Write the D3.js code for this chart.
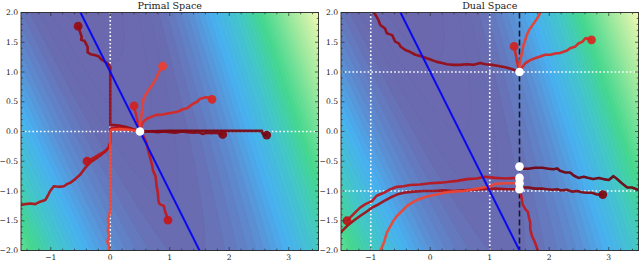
<!DOCTYPE html>
<html><head><meta charset="utf-8">
<script src="https://cdn.jsdelivr.net/npm/d3@7"></script>
<style>
html,body{margin:0;padding:0;background:#fff;}
svg{display:block;font-family:"DejaVu Serif",serif;}
</style></head>
<body><svg id="chart" width="640" height="260"></svg>
<script>
// ---------------- data ----------------
const panelTitles = ["Primal Space", "Dual Space"];
const xTickValues = [-1, 0, 1, 2, 3];
const yTickValues = [-2, -1.5, -1, -0.5, 0, 0.5, 1, 1.5, 2];
const xDomain = [-1.5, 3.5];
const yDomain = [-2, 2];

// background field coefficients f = a*(x - c + k*y)^2 + g*y
const fieldA = 0.223, fieldC = 0.51, fieldK = 0.39, fieldG = -0.06;

// constraint line 2x + y = 1 (two endpoints)
const constraintLine = [[-0.55, 2.1], [1.55, -2.1]];

// primal trajectories
const pTraj1 = [[-0.54,1.77],[-0.50,1.65],[-0.48,1.59],[-0.49,1.54],[-0.43,1.52],[-0.40,1.46],[-0.38,1.42],[-0.38,1.33],[-0.33,1.30],[-0.25,1.28],[-0.19,1.26],[-0.16,1.22],[-0.10,1.18],[-0.05,1.15],[-0.01,1.10],[0.0,1.09],[0.0,0.60],[0.0,0.11],[0.06,0.11],[0.15,0.10],[0.25,0.08],[0.35,0.05],[0.43,0.02],[0.5,0.0]];
const pTraj2 = [[2.63,-0.06],[2.58,-0.05],[2.55,-0.02],[2.55,0.01],[2.2,0.01],[1.6,0.01],[1.0,0.01],[0.5,0.0]];
const pTraj3 = [[1.89,-0.05],[1.84,-0.04],[1.78,-0.02],[1.70,-0.03],[1.62,-0.02],[1.55,-0.04],[1.48,-0.01],[1.40,-0.02],[1.30,-0.01],[1.20,0.0],[1.10,-0.02],[1.0,-0.01],[0.9,0.0],[0.8,-0.01],[0.7,0.0],[0.5,0.0]];
const pTraj4 = [[0.88,1.10],[0.84,1.04],[0.81,0.98],[0.77,0.89],[0.73,0.82],[0.70,0.77],[0.66,0.72],[0.62,0.66],[0.58,0.59],[0.56,0.55],[0.55,0.48],[0.54,0.40],[0.53,0.31],[0.52,0.24],[0.50,0.14],[0.50,0.06],[0.5,0.0]];
const pTraj5 = [[0.40,0.43],[0.41,0.37],[0.43,0.30],[0.44,0.24],[0.46,0.16],[0.48,0.09],[0.5,0.0]];
const pTraj6 = [[1.71,0.54],[1.65,0.57],[1.60,0.575],[1.55,0.56],[1.51,0.55],[1.46,0.50],[1.40,0.47],[1.34,0.43],[1.29,0.39],[1.21,0.37],[1.17,0.35],[1.12,0.33],[1.06,0.32],[1.01,0.31],[0.95,0.30],[0.90,0.29],[0.84,0.28],[0.78,0.28],[0.70,0.25],[0.62,0.22],[0.56,0.17],[0.53,0.12],[0.5,0.0]];
const pTraj7 = [[-0.39,-0.50],[-0.33,-0.47],[-0.26,-0.43],[-0.19,-0.39],[-0.12,-0.35],[-0.06,-0.31],[-0.02,-0.27],[0.0,-0.18],[0.0,0.0],[0.01,0.05],[0.1,0.06],[0.25,0.05],[0.4,0.02],[0.5,0.0]];
const pTraj8 = [[-1.62,-1.27],[-1.51,-1.24],[-1.43,-1.22],[-1.34,-1.21],[-1.26,-1.22],[-1.18,-1.18],[-1.09,-1.15],[-1.05,-1.08],[-1.01,-1.0],[-0.95,-0.92],[-0.87,-0.93],[-0.78,-0.92],[-0.72,-0.88],[-0.67,-0.86],[-0.59,-0.80],[-0.50,-0.72],[-0.42,-0.61],[-0.34,-0.52],[-0.28,-0.48],[-0.22,-0.44],[-0.14,-0.38],[-0.08,-0.33],[-0.03,-0.27],[0.0,-0.19],[0.01,0.04],[0.11,0.07],[0.22,0.06],[0.34,0.04],[0.49,0.01]];
const pTraj9 = [[-0.03,-2.15],[-0.03,-2.0],[-0.02,-1.93],[-0.05,-1.85],[-0.02,-1.76],[-0.04,-1.66],[-0.02,-1.57],[-0.04,-1.48],[-0.01,-1.38],[0.0,-1.3],[0.0,-0.6],[0.0,0.0],[0.02,0.03],[0.15,0.04],[0.32,0.03],[0.5,0.0]];
const pTraj10 = [[0.97,-1.49],[0.95,-1.42],[0.92,-1.34],[0.90,-1.25],[0.83,-1.22],[0.81,-1.17],[0.80,-1.03],[0.78,-0.92],[0.77,-0.83],[0.76,-0.75],[0.72,-0.66],[0.70,-0.55],[0.67,-0.44],[0.64,-0.33],[0.61,-0.19],[0.56,-0.08],[0.5,0.0]];
const primalTrajectories = [pTraj2, pTraj3, pTraj1, pTraj8, pTraj7, pTraj10, pTraj5, pTraj6, pTraj4, pTraj9];
const primalShades = [0.97, 0.94, 0.9, 0.84, 0.8, 0.78, 0.72, 0.7, 0.62, 0.6];
const primalSolutions = [[0.5, 0.0]];
const primalGuidesX = [0];
const primalGuidesY = [0];

// dual trajectories
const dTraj1 = [[-1.0,2.1],[-0.96,2.01],[-0.92,1.96],[-0.87,1.87],[-0.84,1.79],[-0.76,1.73],[-0.73,1.65],[-0.64,1.62],[-0.59,1.51],[-0.53,1.48],[-0.50,1.43],[-0.42,1.37],[-0.34,1.34],[-0.25,1.29],[-0.14,1.26],[-0.06,1.23],[0.03,1.20],[0.11,1.17],[0.20,1.15],[0.28,1.13],[0.39,1.12],[0.50,1.12],[0.62,1.13],[0.73,1.12],[0.84,1.15],[0.93,1.13],[1.04,1.12],[1.15,1.10],[1.26,1.08],[1.37,1.05],[1.5,1.0]];
const dTraj2 = [[1.9,2.12],[1.86,2.02],[1.82,1.94],[1.77,1.86],[1.72,1.79],[1.67,1.72],[1.63,1.64],[1.60,1.55],[1.57,1.46],[1.55,1.37],[1.53,1.27],[1.50,1.15],[1.5,1.0]];
const dTraj3 = [[1.41,1.43],[1.43,1.33],[1.45,1.22],[1.47,1.12],[1.5,1.0]];
const dTraj4 = [[2.71,1.54],[2.61,1.57],[2.56,1.51],[2.49,1.48],[2.44,1.43],[2.35,1.40],[2.30,1.36],[2.24,1.34],[2.18,1.32],[2.10,1.31],[2.02,1.29],[1.93,1.29],[1.85,1.26],[1.76,1.23],[1.68,1.20],[1.60,1.15],[1.53,1.06],[1.5,1.0]];
const dTraj5 = [[3.6,-1.02],[3.53,-1.0],[3.47,-0.97],[3.39,-0.94],[3.31,-0.94],[3.22,-0.87],[3.14,-0.80],[3.08,-0.75],[3.00,-0.815],[2.91,-0.80],[2.83,-0.78],[2.74,-0.80],[2.66,-0.78],[2.58,-0.76],[2.49,-0.78],[2.41,-0.74],[2.35,-0.69],[2.27,-0.69],[2.18,-0.66],[2.13,-0.62],[2.07,-0.635],[1.99,-0.625],[1.88,-0.61],[1.76,-0.61],[1.65,-0.625],[1.54,-0.625],[1.5,-0.59]];
const dTraj6 = [[2.90,-1.06],[2.80,-1.06],[2.72,-1.03],[2.63,-1.03],[2.55,-1.02],[2.47,-1.0],[2.38,-1.01],[2.30,-0.98],[2.21,-0.99],[2.13,-0.97],[2.05,-0.98],[1.96,-0.97],[1.88,-0.96],[1.76,-0.96],[1.65,-0.94],[1.54,-0.94],[1.5,-0.97]];
const dTraj7 = [[-1.40,-1.50],[-1.34,-1.44],[-1.29,-1.39],[-1.18,-1.28],[-1.09,-1.22],[-0.98,-1.17],[-0.90,-1.08],[-0.78,-1.03],[-0.67,-0.97],[-0.56,-0.93],[-0.45,-0.92],[-0.34,-0.90],[-0.17,-0.89],[0.0,-0.87],[0.17,-0.86],[0.28,-0.85],[0.45,-0.83],[0.62,-0.80],[0.78,-0.79],[0.92,-0.76],[1.09,-0.78],[1.26,-0.79],[1.5,-0.78]];
const dTraj8 = [[-1.6,-1.8],[-1.51,-1.70],[-1.40,-1.59],[-1.29,-1.50],[-1.18,-1.42],[-1.06,-1.34],[-0.98,-1.28],[-0.90,-1.24],[-0.78,-1.17],[-0.67,-1.11],[-0.56,-1.06],[-0.45,-1.03],[-0.28,-1.01],[-0.11,-1.0],[0.06,-1.0],[0.22,-0.99],[0.39,-1.0],[0.56,-0.99],[0.73,-0.98],[0.90,-0.97],[1.1,-0.96],[1.3,-0.97],[1.5,-0.97]];
const dTraj9 = [[-0.88,-2.12],[-0.84,-2.01],[-0.78,-1.87],[-0.73,-1.70],[-0.67,-1.59],[-0.62,-1.50],[-0.56,-1.42],[-0.48,-1.34],[-0.39,-1.25],[-0.31,-1.20],[-0.22,-1.15],[-0.11,-1.11],[0.0,-1.08],[0.11,-1.06],[0.22,-1.03],[0.39,-1.01],[0.56,-1.0],[0.73,-0.97],[0.90,-0.94],[1.01,-0.92],[1.09,-0.88],[1.26,-0.87],[1.5,-0.87]];
const dTraj10 = [[1.84,-2.1],[1.81,-2.01],[1.78,-1.92],[1.75,-1.84],[1.71,-1.76],[1.68,-1.64],[1.68,-1.53],[1.66,-1.45],[1.64,-1.35],[1.60,-1.31],[1.55,-1.22],[1.53,-1.08],[1.5,-0.97]];
const dualTrajectories = [dTraj5, dTraj6, dTraj1, dTraj8, dTraj7, dTraj10, dTraj3, dTraj4, dTraj2, dTraj9];
const dualShades = [0.98, 0.95, 0.9, 0.87, 0.8, 0.78, 0.72, 0.7, 0.62, 0.6];
const dualSolutions = [[1.5, 1.0], [1.5, -0.59], [1.5, -0.78], [1.5, -0.87], [1.5, -0.97]];
const dualGuidesX = [-1, 1];
const dualGuidesY = [-1, 1];
const dualDashedX = [1.5];

// ---------------- drawing ----------------
const svg = d3.select("#chart");
const panels = [
  {title: panelTitles[0], x0: 21, x1: 318.5, trajs: primalTrajectories, shades: primalShades, sols: primalSolutions, gx: primalGuidesX, gy: primalGuidesY, dashed: []},
  {title: panelTitles[1], x0: 341, x1: 638.5, trajs: dualTrajectories, shades: dualShades, sols: dualSolutions, gx: dualGuidesX, gy: dualGuidesY, dashed: dualDashedX}
];
const yTop = 12.5, yBot = 250.5;

const field = (x, y) => fieldA * Math.pow(x - fieldC + fieldK * y, 2) + fieldG * y;
const cmap = d3.scaleLinear()
  .domain([-0.14, 0.12, 0.4, 0.75, 1.2, 1.6, 2.3, 3.05])
  .range(["#6b67ad", "#6a6cb2", "#5e88cd", "#49b1f1", "#44c8c6", "#45d890", "#a0eaa0", "#f4f9b6"])
  .clamp(true);

const nx = 150, ny = 120;
const gridVals = new Array(nx * ny);
for (let j = 0; j < ny; j++) {
  for (let i = 0; i < nx; i++) {
    const x = xDomain[0] + (i + 0.5) * (xDomain[1] - xDomain[0]) / nx;
    const y = yDomain[1] - (j + 0.5) * (yDomain[1] - yDomain[0]) / ny;
    gridVals[j * nx + i] = field(x, y);
  }
}
const levels = d3.range(-0.14, 3.1, 0.07);
const contours = d3.contours().size([nx, ny]).thresholds(levels)(gridVals);

panels.forEach((p, pi) => {
  const xs = d3.scaleLinear().domain(xDomain).range([p.x0, p.x1]);
  const ys = d3.scaleLinear().domain(yDomain).range([yBot, yTop]);
  const g = svg.append("g");
  const clipId = "clip" + pi;
  g.append("clipPath").attr("id", clipId).append("rect")
    .attr("x", p.x0).attr("y", yTop).attr("width", p.x1 - p.x0).attr("height", yBot - yTop);
  const plot = g.append("g").attr("clip-path", `url(#${clipId})`);

  // background contours
  const proj = d3.geoTransform({
    point: function(gx, gy) {
      const x = xDomain[0] + gx * (xDomain[1] - xDomain[0]) / nx;
      const y = yDomain[1] - gy * (yDomain[1] - yDomain[0]) / ny;
      this.stream.point(xs(x), ys(y));
    }
  });
  const gp = d3.geoPath(proj);
  plot.append("rect").attr("x", p.x0).attr("y", yTop).attr("width", p.x1 - p.x0).attr("height", yBot - yTop)
    .attr("fill", cmap(levels[0]));
  plot.selectAll("path.bg").data(contours).join("path").attr("class", "bg")
    .attr("d", gp).attr("fill", d => cmap(d.value + 0.035))
    .attr("stroke", d => d3.color(cmap(d.value)).darker(0.08)).attr("stroke-width", 0.35);

  // guide lines (white dotted)
  p.gx.forEach(v => plot.append("line").attr("x1", xs(v)).attr("x2", xs(v)).attr("y1", yTop).attr("y2", yBot)
    .attr("stroke", "#fff").attr("stroke-width", 1.6).attr("stroke-dasharray", "1.6,2.2"));
  p.gy.forEach(v => plot.append("line").attr("y1", ys(v)).attr("y2", ys(v)).attr("x1", p.x0).attr("x2", p.x1)
    .attr("stroke", "#fff").attr("stroke-width", 1.6).attr("stroke-dasharray", "1.6,2.2"));

  // dashed black
  p.dashed.forEach(v => plot.append("line").attr("x1", xs(v)).attr("x2", xs(v)).attr("y1", yTop).attr("y2", yBot)
    .attr("stroke", "#111827").attr("stroke-width", 1.6).attr("stroke-dasharray", "6,3"));

  // trajectories
  const line = d3.line().x(d => xs(d[0])).y(d => ys(d[1]));
  p.trajs.forEach((t, ti) => {
    const c = d3.interpolateReds(p.shades[ti]);
    plot.append("path").attr("d", line(t)).attr("fill", "none").attr("stroke", c)
      .attr("stroke-width", 2.6).attr("stroke-linejoin", "round").attr("opacity", 0.92);
    plot.append("circle").attr("cx", xs(t[0][0])).attr("cy", ys(t[0][1])).attr("r", 4.4)
      .attr("fill", c).attr("opacity", 0.92);
  });

  // constraint line
  plot.append("path").attr("d", line(constraintLine)).attr("stroke", "#0a0af0").attr("stroke-width", 2).attr("fill", "none");

  // solutions
  plot.selectAll("circle.sol").data(p.sols).join("circle").attr("class", "sol")
    .attr("cx", d => xs(d[0])).attr("cy", d => ys(d[1])).attr("r", 4.3).attr("fill", "#fff");

  // frame
  g.append("rect").attr("x", p.x0).attr("y", yTop).attr("width", p.x1 - p.x0).attr("height", yBot - yTop)
    .attr("fill", "none").attr("stroke", "#2b2b2b").attr("stroke-width", 0.9);

  // ticks (inward, all sides)
  const tickG = g.append("g").attr("stroke", "#2b2b2b").attr("stroke-width", 0.7);
  const xMinor = d3.range(-1.4, 3.5, 0.2).filter(v => Math.abs(v - Math.round(v)) > 1e-6);
  const yMinor = d3.range(-1.9, 2.0, 0.1).filter(v => Math.abs(v * 2 - Math.round(v * 2)) > 1e-6);
  xTickValues.forEach(v => {
    tickG.append("line").attr("x1", xs(v)).attr("x2", xs(v)).attr("y1", yBot).attr("y2", yBot - 3.5);
    tickG.append("line").attr("x1", xs(v)).attr("x2", xs(v)).attr("y1", yTop).attr("y2", yTop + 3.5);
  });
  xMinor.forEach(v => {
    tickG.append("line").attr("x1", xs(v)).attr("x2", xs(v)).attr("y1", yBot).attr("y2", yBot - 1.8);
    tickG.append("line").attr("x1", xs(v)).attr("x2", xs(v)).attr("y1", yTop).attr("y2", yTop + 1.8);
  });
  yTickValues.forEach(v => {
    tickG.append("line").attr("y1", ys(v)).attr("y2", ys(v)).attr("x1", p.x0).attr("x2", p.x0 + 3.5);
    tickG.append("line").attr("y1", ys(v)).attr("y2", ys(v)).attr("x1", p.x1).attr("x2", p.x1 - 3.5);
  });
  yMinor.forEach(v => {
    tickG.append("line").attr("y1", ys(v)).attr("y2", ys(v)).attr("x1", p.x0).attr("x2", p.x0 + 1.8);
    tickG.append("line").attr("y1", ys(v)).attr("y2", ys(v)).attr("x1", p.x1).attr("x2", p.x1 - 1.8);
  });

  // tick labels
  const fmtY = d3.format(".1f");
  g.selectAll("text.xl").data(xTickValues).join("text").attr("class", "xl")
    .attr("x", d => xs(d)).attr("y", 259.5).attr("text-anchor", "middle")
    .attr("font-size", 7.6).attr("fill", "#222").text(d => d3.format("d")(d).replace("-", "\u2212"));
  g.selectAll("text.yl").data(yTickValues).join("text").attr("class", "yl")
    .attr("x", p.x0 - 3).attr("y", d => ys(d) + 2.7).attr("text-anchor", "end")
    .attr("font-size", 7.6).attr("fill", "#222").text(d => fmtY(d).replace("-", "\u2212"));

  // title
  g.append("text").attr("x", (p.x0 + p.x1) / 2).attr("y", 9.3).attr("text-anchor", "middle")
    .attr("font-size", 9.6).attr("fill", "#222").text(p.title);
});
</script>
</body></html>
